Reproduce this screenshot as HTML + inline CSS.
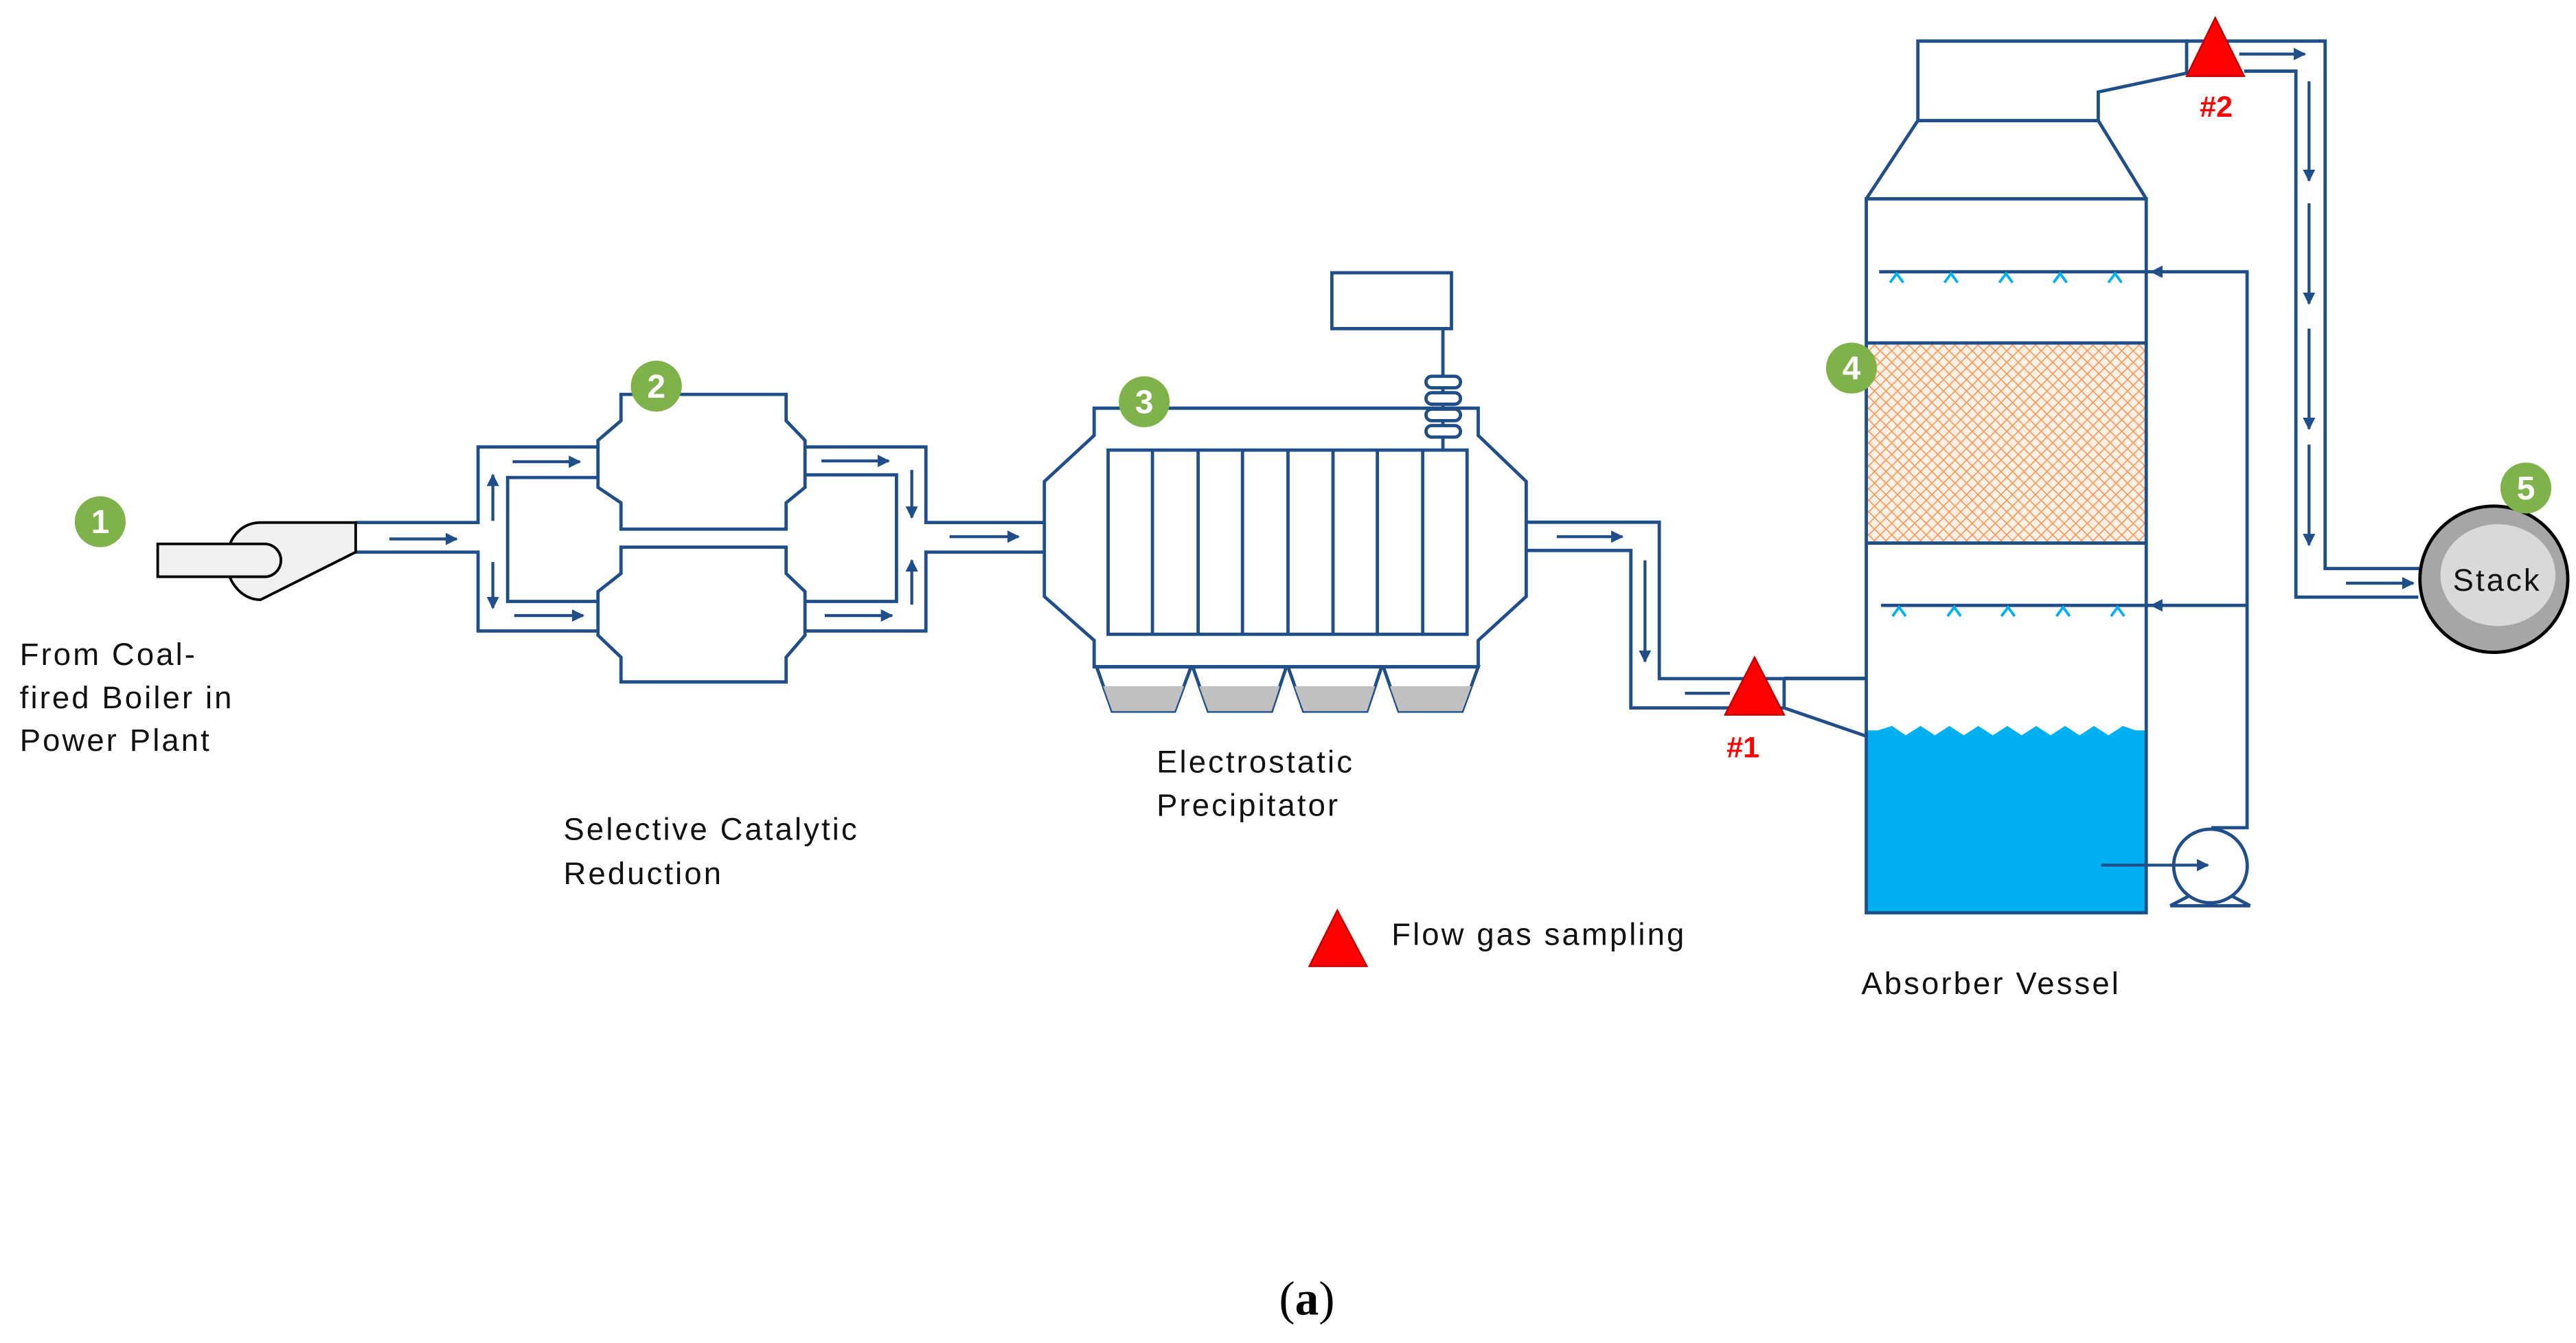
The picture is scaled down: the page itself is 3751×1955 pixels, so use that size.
<!DOCTYPE html>
<html><head><meta charset="utf-8"><style>
html,body{margin:0;padding:0;background:#fff;}
svg{display:block;}
</style></head><body>
<svg width="3751" height="1955" viewBox="0 0 1568 817.3" preserveAspectRatio="none" xmlns="http://www.w3.org/2000/svg">
<defs>
<pattern id="hatch" width="7" height="7" patternUnits="userSpaceOnUse">
<rect width="7" height="7" fill="#fdf1e7"/>
<path d="M0 0L7 7M7 0L0 7" stroke="#f79a5a" stroke-width="0.7"/>
</pattern>
<marker id="ah" viewBox="0 0 10 10" refX="9" refY="5" markerWidth="4.2" markerHeight="4.2" orient="auto"><path d="M0 0L10 5L0 10z" fill="#1f4e89"/></marker>
</defs>
<g fill="none" stroke="#1f4e89" stroke-width="2" stroke-linejoin="miter">
<!-- fan duct -->
<path d="M216.5 318H291V272H364"/>
<path d="M216.5 336H291V384H364"/>
<path d="M364 290.6H309V366H364"/>
<!-- upper reactor -->
<path d="M378 240H478.5V256L490 268V296.6L478.5 306V322H378V306L364 296.6V268L378 256Z"/>
<!-- lower reactor -->
<path d="M378 333H478.5V349L490 360V386.6L478.5 400V415H378V400L364 386.6V360L378 349Z"/>
<!-- right loop -->
<path d="M490 272H563.6V318H636"/>
<path d="M490 289H545.7V366H490"/>
<path d="M490 384H563.6V336H636"/>
<!-- ESP -->
<path d="M666 265V248.4H899.8V265L929 293V363L899.8 389.7V405.8H666V389.7L635.7 363V293Z"/>
<rect x="674.5" y="273.9" width="218.5" height="112.1"/>
<path d="M701.5 273.9V386M729.3 273.9V386M756.3 273.9V386M784 273.9V386M811.4 273.9V386M838.4 273.9V386M866 273.9V386"/>
<rect x="810.7" y="166" width="72.8" height="34"/>
<path d="M878.3 200V273.9"/>
</g>
<!-- insulators -->
<g fill="#fff" stroke="#1f4e89" stroke-width="2">
<rect x="868" y="229" width="21" height="7" rx="3.5"/>
<rect x="868" y="239" width="21" height="7" rx="3.5"/>
<rect x="868" y="249" width="21" height="7" rx="3.5"/>
<rect x="868" y="259" width="21" height="7" rx="3.5"/>
</g>
<!-- hoppers -->
<g stroke="#1f4e89" stroke-width="2">
<path d="M667.5 405.8L677 432.8H715L725 405.8Z" fill="#fff"/>
<path d="M726 405.8L735.5 432.8H774L783 405.8Z" fill="#fff"/>
<path d="M784 405.8L793.5 432.8H832L841 405.8Z" fill="#fff"/>
<path d="M842 405.8L851.5 432.8H890L899.8 405.8Z" fill="#fff"/>
</g>
<g fill="#c0c0c0">
<path d="M671.5 417.6L677 432.8H715L720.7 417.6Z"/>
<path d="M730 417.6L735.5 432.8H774L779 417.6Z"/>
<path d="M788 417.6L793.5 432.8H832L837 417.6Z"/>
<path d="M846 417.6L851.5 432.8H890L895.6 417.6Z"/>
</g>
<g fill="none" stroke="#1f4e89" stroke-width="2">
<path d="M666 405.8H899.8"/>
<path d="M929 317.8H1010V413H1136"/>
<path d="M929 335H992.7V430.8H1086V413"/>
<path d="M1086 430.8L1136 448"/>
</g>
<!-- water -->
<path d="M1136 444.5 L1143 444.5 L1151.6 441.8 L1160 447.5 L1169 441.8 L1177.8 447.5 L1186.6 441.8 L1195.4 447.5 L1204.2 441.8 L1213 447.5 L1221.8 441.8 L1230.6 447.5 L1239.4 441.8 L1248.2 447.5 L1257 441.8 L1265.8 447.5 L1274.6 441.8 L1283.4 447.5 L1292.2 441.8 L1300 444.5 L1306.4 444.5 V555.5 H1136Z" fill="#00b0f0"/>
<rect x="1136" y="208.7" width="170.4" height="121.8" fill="url(#hatch)"/>
<g fill="none" stroke="#1f4e89" stroke-width="2">
<path d="M1136 121H1306.4V555.5H1136Z"/>
<path d="M1136 208.7H1306.4M1136 330.5H1306.4"/>
<path d="M1136 121L1167.4 73.4H1277.2L1306.4 121"/>
<path d="M1167.4 73.4V25H1331V44.5L1277.2 56V73.4"/>
<path d="M1331 25H1415.3V346H1473.6"/>
<path d="M1366 43.3H1397.5V363.4H1472"/>
<path d="M1143.8 165.4H1367.8V503.7H1346"/>
<path d="M1145 368.4H1367.8"/>
<ellipse cx="1345.5" cy="527" rx="22.4" ry="22.4"/>
<path d="M1321 551.2H1369.7M1321 551.2L1333 545M1369.7 551.2L1358 545"/>
<path d="M1086 412.8H1136"/>
</g>
<!-- nozzles -->
<g fill="none" stroke="#00b0f0" stroke-width="1.6">
<path d="M1150.5 172L1154.5 166.5L1158.5 172M1183.6 172L1187.6 166.5L1191.6 172M1217 172L1221 166.5L1225 172M1250 172L1254 166.5L1258 172M1283.4 172L1287.4 166.5L1291.4 172"/>
<path d="M1152 375L1156 369.5L1160 375M1185.5 375L1189.5 369.5L1193.5 375M1218.3 375L1222.3 369.5L1226.3 375M1251.8 375L1255.8 369.5L1259.8 375M1285 375L1289 369.5L1293 375"/>
</g>
<!-- arrows -->
<g stroke="#1f4e89" stroke-width="1.8" marker-end="url(#ah)">
<path d="M237 328H278"/>
<path d="M312 281H353"/>
<path d="M313 374.6H355"/>
<path d="M300 317V289"/>
<path d="M300 342V370"/>
<path d="M500 280.5H541"/>
<path d="M502 374.6H543"/>
<path d="M555 286V315"/>
<path d="M555 368V341"/>
<path d="M578 326.6H620"/>
<path d="M947.6 326.6H987.5"/>
<path d="M1001.3 341V402.6"/>
<path d="M1363 32.9H1403"/>
<path d="M1405.5 49.5V110"/>
<path d="M1405.5 123.7V184.8"/>
<path d="M1405.5 200V261"/>
<path d="M1405.5 270.6V331.7"/>
<path d="M1428 354.9H1469"/>
<path d="M1367.8 165.4H1309.5"/>
<path d="M1367.8 368.4H1309.5"/>
<path d="M1279 526.5H1344"/>
</g>
<path d="M1025.6 421.9H1053" stroke="#1f4e89" stroke-width="1.8"/>
<!-- fan -->
<path d="M158.6 318H216.5V336L158.6 365C146 365 137 352 138 340C139 327 147 318 158.6 318Z" fill="#f0f0f0" stroke="#000" stroke-width="1.6"/>
<path d="M96 331H161A10 10 0 0 1 161 351H96Z" fill="#f0f0f0" stroke="#000" stroke-width="1.6"/>
<!-- stack -->
<ellipse cx="1518" cy="352.5" rx="45" ry="44.5" fill="#a6a6a6" stroke="#000" stroke-width="2"/>
<ellipse cx="1520.5" cy="350" rx="35" ry="31" fill="#d9d9d9"/>
<!-- triangles -->
<g fill="#ff0000" stroke="#c00000" stroke-width="1">
<path d="M1068 400L1086 435H1050Z"/>
<path d="M1348.4 10.8L1366 46.4H1331Z"/>
<path d="M814 554L832 588H797Z"/>
</g>
<!-- green circles -->
<g fill="#7fb24a">
<circle cx="61" cy="317.5" r="15.5"/>
<circle cx="399.5" cy="235" r="15.5"/>
<circle cx="696.5" cy="244.5" r="15.5"/>
<circle cx="1127" cy="224" r="15.5"/>
<circle cx="1537.5" cy="297" r="15.5"/>
</g>
<g font-family="Liberation Sans, sans-serif" font-weight="bold" font-size="20" fill="#fff" text-anchor="middle">
<text x="61" y="324.5">1</text>
<text x="399.5" y="242">2</text>
<text x="696.5" y="251.5">3</text>
<text x="1127" y="231">4</text>
<text x="1537.5" y="304">5</text>
</g>
<g font-family="Liberation Sans, sans-serif" font-weight="bold" font-size="18" fill="#ff0000">
<text x="1051" y="461">#1</text>
<text x="1339" y="71">#2</text>
</g>
<g font-family="Liberation Sans, sans-serif" font-size="19" fill="#111" letter-spacing="1.3">
<text x="12" y="404.6">From Coal-</text>
<text x="12" y="431">fired Boiler in</text>
<text x="12" y="457">Power Plant</text>
<text x="343" y="511">Selective Catalytic</text>
<text x="343" y="538">Reduction</text>
<text x="704" y="470">Electrostatic</text>
<text x="704" y="496.5">Precipitator</text>
<text x="847" y="575">Flow gas sampling</text>
<text x="1133" y="605">Absorber Vessel</text>
<text x="1493" y="359.5">Stack</text>
</g>
<text x="795.5" y="800" font-family="Liberation Serif, serif" font-size="29" fill="#000" text-anchor="middle">(<tspan font-weight="bold">a</tspan>)</text>
</svg>
</body></html>
